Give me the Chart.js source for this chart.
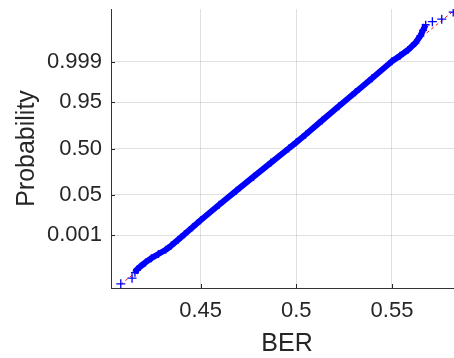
<!DOCTYPE html>
<html>
<head>
<meta charset="utf-8">
<script src="https://cdn.jsdelivr.net/npm/chart.js@4/dist/chart.umd.min.js"></script>
<style>
html, body { margin: 0; padding: 0; background: #fff; overflow: hidden; width: 454px; height: 358px; }
#wrap { position: absolute; left: 0; top: 0; width: 470px; height: 358px; }
</style>
</head>
<body>
<div id="wrap"><canvas id="c" width="470" height="358"></canvas></div>
<script>
// Ordered BER samples forming the dense band, with their normal scores
const bandBer = [0.4157, 0.4168, 0.4185, 0.4212, 0.4243, 0.4280, 0.4318, 0.4347, 0.4382, 0.4416,
                 0.4458, 0.4500, 0.4597, 0.4687, 0.4777, 0.4868, 0.4960, 0.5000, 0.5049, 0.5135,
                 0.5222, 0.5309, 0.5396, 0.5500, 0.5542, 0.5583, 0.5622, 0.5648, 0.5662, 0.5676];
const bandScore = [-4.42, -4.30, -4.20, -4.05, -3.90, -3.75, -3.60, -3.45, -3.25, -3.05,
                   -2.80, -2.55, -2.00, -1.50, -1.00, -0.50, 0.00, 0.22, 0.50, 1.00,
                   1.50, 2.00, 2.50, 3.10, 3.30, 3.50, 3.75, 4.00, 4.20, 4.40];
// Isolated extreme samples
const tailBer = [0.4083, 0.4142, 0.5711, 0.5760, 0.5820];
const tailScore = [-4.81, -4.61, 4.51, 4.60, 4.85];

// Normal fit used for the dashed reference line
const refMean = 0.4947;
const refStd = 0.01787;

// Axis ticks
const xTickValues = [0.45, 0.5, 0.55];
const xTickLabels = ['0.45', '0.5', '0.55'];
const probTicks = [0.001, 0.05, 0.5, 0.95, 0.999];
const probTickLabels = ['0.001', '0.05', '0.50', '0.95', '0.999'];

// Inverse standard normal CDF (Acklam)
function norminv(p) {
  const a = [-3.969683028665376e+01, 2.209460984245205e+02, -2.759285104469687e+02, 1.383577518672690e+02, -3.066479806614716e+01, 2.506628277459239e+00];
  const b = [-5.447609879822406e+01, 1.615858368580409e+02, -1.556989798598866e+02, 6.680131188771972e+01, -1.328068155288572e+01];
  const c = [-7.784894002430293e-03, -3.223964580411365e-01, -2.400758277161838e+00, -2.549732539343734e+00, 4.374664141464968e+00, 2.938163982698783e+00];
  const d = [7.784695709041462e-03, 3.224671290700398e-01, 2.445134137142996e+00, 3.754408661907416e+00];
  const pl = 0.02425, ph = 1 - pl;
  let q, r;
  if (p < pl) {
    q = Math.sqrt(-2 * Math.log(p));
    return (((((c[0]*q + c[1])*q + c[2])*q + c[3])*q + c[4])*q + c[5]) / ((((d[0]*q + d[1])*q + d[2])*q + d[3])*q + 1);
  }
  if (p <= ph) {
    q = p - 0.5; r = q * q;
    return (((((a[0]*r + a[1])*r + a[2])*r + a[3])*r + a[4])*r + a[5])*q / (((((b[0]*r + b[1])*r + b[2])*r + b[3])*r + b[4])*r + 1);
  }
  q = Math.sqrt(-2 * Math.log(1 - p));
  return -(((((c[0]*q + c[1])*q + c[2])*q + c[3])*q + c[4])*q + c[5]) / ((((d[0]*q + d[1])*q + d[2])*q + d[3])*q + 1);
}

const toPoints = (xs, ys) => xs.map((x, i) => ({ x: x, y: ys[i] }));
const berMin = Math.min(...tailBer), berMax = Math.max(...tailBer);
const refLine = [berMin, berMax].map(x => ({ x: x, y: (x - refMean) / refStd }));

const TEXT = '#262626';
const FONT = "'Liberation Sans', Arial, Helvetica, sans-serif";

// Short tick marks pointing into the plot area
const innerTicks = {
  id: 'innerTicks',
  afterDatasetsDraw(chart) {
    const { ctx, chartArea, scales } = chart;
    ctx.save();
    ctx.strokeStyle = TEXT;
    ctx.lineWidth = 1;
    ctx.beginPath();
    scales.x.ticks.forEach(t => {
      const px = Math.round(scales.x.getPixelForValue(t.value)) + 0.5;
      ctx.moveTo(px, chartArea.bottom);
      ctx.lineTo(px, chartArea.bottom - 4);
    });
    scales.y.ticks.forEach(t => {
      const py = Math.round(scales.y.getPixelForValue(t.value)) + 0.5;
      ctx.moveTo(chartArea.left, py);
      ctx.lineTo(chartArea.left + 4, py);
    });
    ctx.stroke();
    ctx.restore();
  }
};

new Chart(document.getElementById('c'), {
  type: 'scatter',
  data: {
    datasets: [
      {
        label: 'samples',
        data: toPoints(bandBer, bandScore),
        showLine: true,
        borderColor: '#0000ff',
        borderWidth: 6,
        borderCapStyle: 'butt',
        borderJoinStyle: 'round',
        pointStyle: 'cross',
        pointRadius: 4,
        pointBorderWidth: 1.4,
        pointBorderColor: '#0000ff',
        pointBackgroundColor: '#0000ff',
        order: 0
      },
      {
        label: 'extremes',
        data: toPoints(tailBer, tailScore),
        showLine: false,
        pointStyle: 'cross',
        pointRadius: 4.5,
        pointBorderWidth: 1.3,
        pointBorderColor: '#0000ff',
        order: 1
      },
      {
        label: 'fit',
        data: refLine,
        showLine: true,
        borderColor: '#ff0000',
        borderWidth: 1,
        borderDash: [3, 3],
        pointRadius: 0,
        order: 2
      }
    ]
  },
  options: {
    responsive: false,
    animation: false,
    layout: { padding: { top: 9, right: 7, left: 0, bottom: 0 } },
    plugins: { legend: { display: false }, tooltip: { enabled: false } },
    scales: {
      x: {
        type: 'linear',
        min: 0.4032,
        max: 0.5871,
        afterBuildTicks: s => { s.ticks = xTickValues.map(v => ({ value: v })); },
        afterFit: s => { s.height = 70; s.paddingLeft = 0; s.paddingRight = 0; },
        ticks: {
          callback: (v, i) => xTickLabels[i],
          color: TEXT,
          font: { family: FONT, size: 22 },
          padding: 10,
          maxRotation: 0
        },
        grid: { color: 'rgba(0,0,0,0.12)', lineWidth: 1, drawTicks: false },
        border: { display: true, color: '#333333', width: 1 },
        title: {
          display: true,
          text: 'BER',
          color: TEXT,
          font: { family: FONT, size: 25, lineHeight: 1 },
          padding: { top: 0, bottom: 1 }
        }
      },
      y: {
        type: 'linear',
        min: -4.96,
        max: 4.96,
        afterBuildTicks: s => { s.ticks = probTicks.map(p => ({ value: norminv(p) })); },
        afterFit: s => { s.width = 111; s.paddingTop = 0; s.paddingBottom = 0; },
        ticks: {
          callback: (v, i) => probTickLabels[i],
          color: TEXT,
          font: { family: FONT, size: 22 },
          padding: 9
        },
        grid: { color: 'rgba(0,0,0,0.12)', lineWidth: 1, drawTicks: false },
        border: { display: true, color: '#333333', width: 1 },
        title: {
          display: true,
          text: 'Probability',
          color: TEXT,
          font: { family: FONT, size: 25, lineHeight: 1.2 },
          padding: { top: 12, bottom: 0 }
        }
      }
    }
  },
  plugins: [innerTicks]
});
</script>
</body>
</html>
